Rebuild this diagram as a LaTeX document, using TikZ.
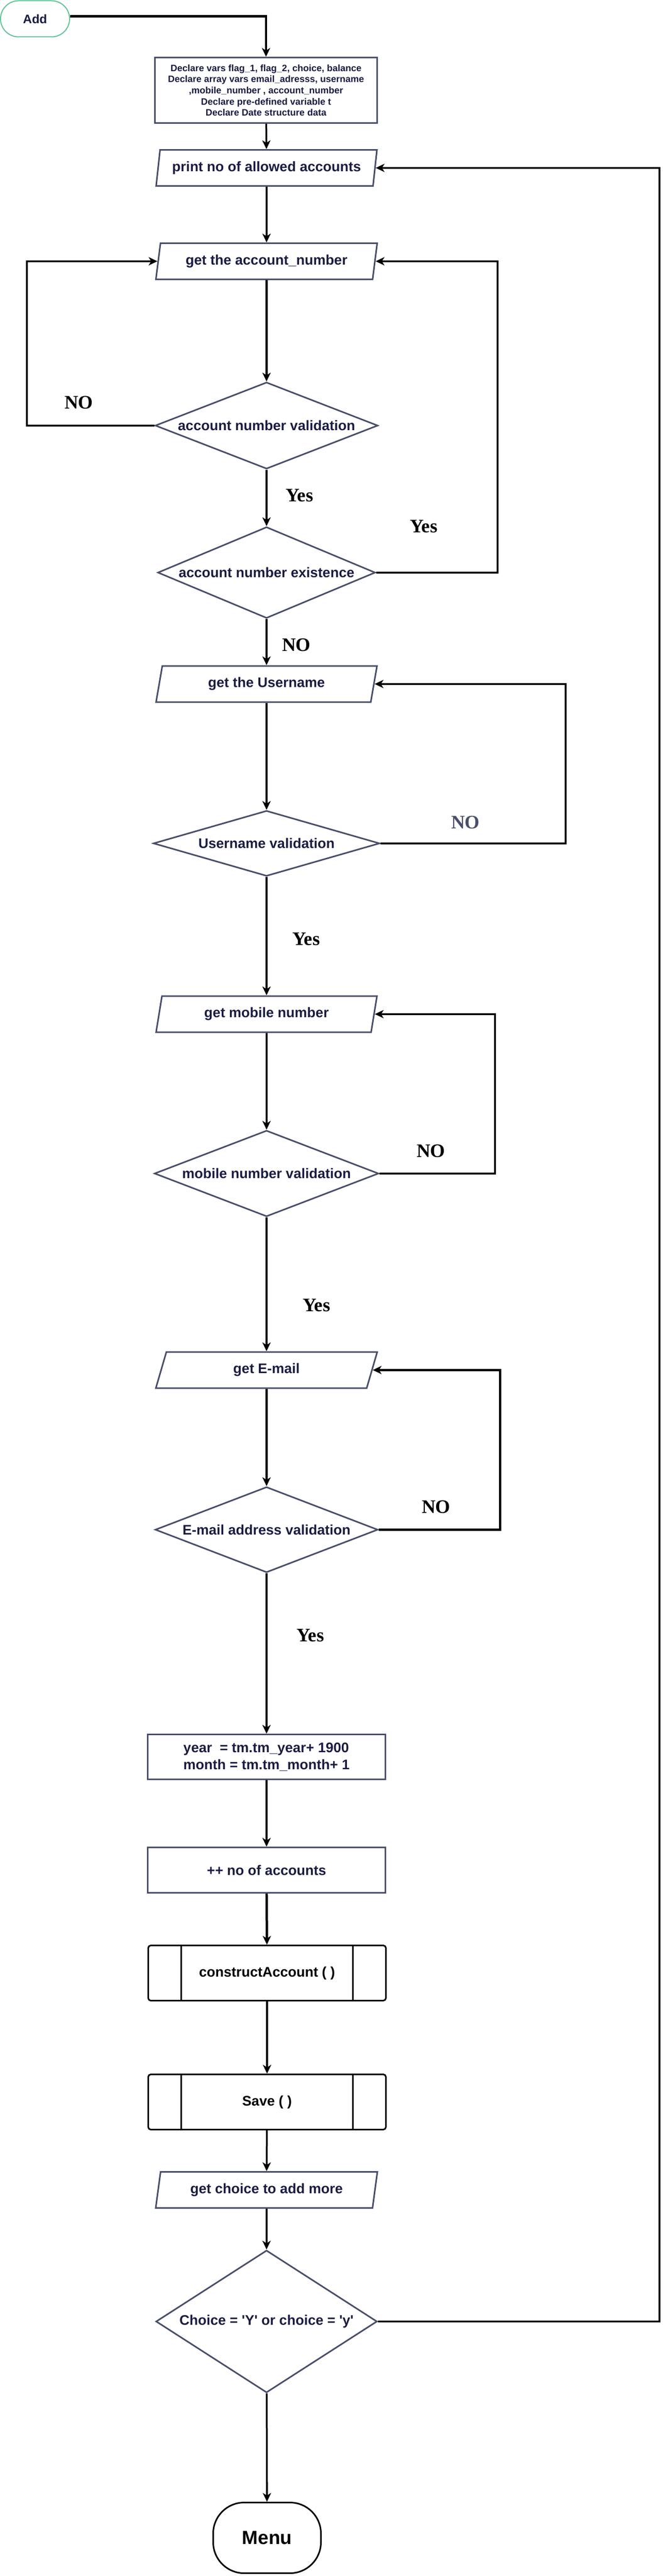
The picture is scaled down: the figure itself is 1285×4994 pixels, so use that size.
\documentclass[tikz,border=0pt]{standalone}
\usepackage{fontspec}
\setmainfont{Liberation Sans}[Ligatures=TeXOff]
\newfontfamily\labelfont{Liberation Serif}
\usetikzlibrary{positioning,calc,shapes.geometric,arrows.meta}
\definecolor{nodeline}{RGB}{72,78,106}
\definecolor{nodetext}{RGB}{26,28,66}
\definecolor{startline}{RGB}{96,196,152}
\newcommand{\boxfont}{\fontsize{27}{32.4}\selectfont\bfseries}

\begin{document}
\begin{tikzpicture}[
    x=1pt, y=-1pt,
    proc/.style={rectangle, draw=nodeline, line width=3pt, fill=white, text=nodetext, inner sep=0pt, align=center, font=\boxfont},
    io/.style={trapezium, trapezium left angle=75, trapezium right angle=105, trapezium stretches=true, draw=nodeline, line width=3pt, fill=white, text=nodetext, inner sep=0pt, minimum width=430pt, minimum height=70pt, font=\boxfont},
    decision/.style={diamond, draw=nodeline, line width=3pt, fill=white, text=nodetext, inner sep=0pt, font=\boxfont},
    subproc/.style={rectangle, rounded corners=5pt, draw=black, line width=3pt, fill=white, minimum width=461pt, minimum height=107pt, font=\boxfont,
        path picture={\draw[line width=3pt] ([xshift=64pt]path picture bounding box.north west) -- ([xshift=64pt]path picture bounding box.south west)
            ([xshift=-64pt]path picture bounding box.north east) -- ([xshift=-64pt]path picture bounding box.south east);}},
    term/.style={rectangle, draw=black, line width=3pt, fill=white, font=\fontsize{37}{40}\selectfont\bfseries},
    edge/.style={draw, line width=3.5pt, -{Stealth[length=17pt,width=16pt,inset=5pt]}},
    thickedge/.style={edge, line width=4.5pt},
    lbl/.style={font=\labelfont\fontsize{37}{40}\selectfont\bfseries}
]
\useasboundingbox (0,0) rectangle (1285,4994);

% Define node positions
\node[rectangle, rounded corners=35pt, draw=startline, line width=2pt, minimum width=134pt, minimum height=70pt, text=nodetext, font=\fontsize{24}{28}\selectfont\bfseries] (add) at (68,36.5) {Add};
\node[proc, minimum width=431pt, minimum height=127pt, font=\fontsize{18}{21.7}\selectfont\bfseries] (decl) at (516,175)
    {Declare vars flag\_1, flag\_2, choice, balance\\Declare array vars email\_adresss, username\\,mobile\_number , account\_number\\Declare pre-defined variable t\\Declare Date structure data};
\node[io] (print) at (517,325.5) {print no of allowed accounts};
\node[io] (acc) at (517,506.5) {get the account\_number};
\node[decision, minimum width=432pt, minimum height=168pt, shape aspect=2.57] (val1) at (517,825) {account number validation};
\node[decision, minimum width=422pt, minimum height=177pt, shape aspect=2.38] (exist) at (517,1110) {account number existence};
\node[io] (user) at (517,1326) {get the Username};
\node[decision, minimum width=439pt, minimum height=127pt, shape aspect=3.46] (uval) at (517,1635) {Username validation};
\node[io] (mobile) at (517,1966) {get mobile number};
\node[decision, minimum width=435pt, minimum height=167pt, shape aspect=2.6] (mval) at (517,2275) {mobile number validation};
\node[io] (email) at (517,2656) {get E-mail};
\node[decision, minimum width=432pt, minimum height=166pt, shape aspect=2.6] (eval) at (517,2965.5) {E-mail address validation};
\node[proc, minimum width=461pt, minimum height=87pt, align=left] (year) at (517,3406)
    {year\ \ = tm.tm\_year+ 1900\\month = tm.tm\_month+ 1};
\node[proc, minimum width=461pt, minimum height=88pt] (plus) at (517,3625.5) {++ no of accounts};
\node[subproc] (construct) at (518,3825) {constructAccount ( )};
\node[subproc] (save) at (518,4075) {Save ( )};
\node[io] (getchoice) at (517,4245.5) {get choice to add more};
\node[decision, minimum width=429pt, minimum height=276pt, shape aspect=1.55] (choice) at (517,4500.5) {Choice = 'Y' or choice = 'y'};
\node[term, rounded corners=60pt, minimum width=209pt, minimum height=137pt] (menu) at (518,4920) {Menu};

% Yes / NO labels
\node[lbl] (no1) at (153,780) {NO};
\node[lbl] (yes1) at (581,961) {Yes};
\node[lbl] (yes2) at (822,1021) {Yes};
\node[lbl] (no2) at (575,1250) {NO};
\node[lbl, text=nodeline] (no3) at (903,1594) {NO};
\node[lbl] (yes3) at (594,1821) {Yes};
\node[lbl] (no4) at (836,2231) {NO};
\node[lbl] (yes4) at (614,2531) {Yes};
\node[lbl] (no5) at (846,2921) {NO};
\node[lbl] (yes5) at (602,3171) {Yes};

% Draw edges
\draw[thickedge] ([yshift=5pt]add.east) -| (decl.north);
\draw[edge] (decl) -- (print);
\draw[edge] (print) -- (acc);
\draw[thickedge] (acc) -- (val1);
\draw[edge] (val1) -- (exist);
\draw[edge] (val1.west) -| (52,506.5) -- (acc.west);
\draw[edge] (exist.east) -| (965,506.5) -- (acc.east);
\draw[edge] (exist) -- (user);
\draw[edge] (user) -- (uval);
\draw[edge] (uval.east) -| (1097,1326) -- (user.east);
\draw[edge] (uval) -- (mobile);
\draw[edge] (mobile) -- (mval);
\draw[edge] (mval.east) -| (960,1966) -- (mobile.east);
\draw[edge] (mval) -- (email);
\draw[thickedge] (email) -- (eval);
\draw[thickedge] (eval.east) -| (970,2656) -- (email.east);
\draw[edge] (eval) -- (year);
\draw[thickedge] (year) -- (plus);
\draw[thickedge] (plus) -- (construct);
\draw[edge] (construct) -- (save);
\draw[edge] (save) -- (getchoice);
\draw[edge] (getchoice) -- (choice);
\draw[edge] (choice) -- (menu);
\draw[edge] (choice.east) -| (1279,325.5) -- (print.east);

\end{tikzpicture}
\end{document}
